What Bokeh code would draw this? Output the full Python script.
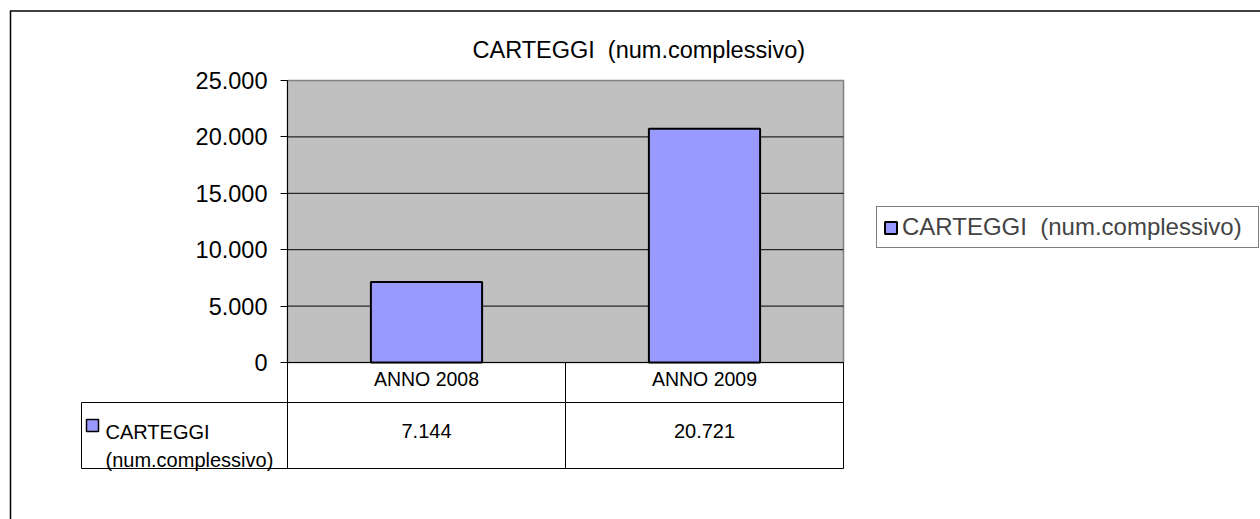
from bokeh.plotting import figure
from bokeh.models import Range1d, FixedTicker, LinearAxis, Legend, LegendItem
from bokeh.core.properties import value
from bokeh.embed import file_html
from bokeh.resources import INLINE

# ---- data ----
title_text = "CARTEGGI \u00a0(num.complessivo)"
series_name = "CARTEGGI  (num.complessivo)"
table_row_label = ["CARTEGGI", "(num.complessivo)"]
categories = ["ANNO 2008", "ANNO 2009"]
values = [7144, 20721]
y_ticks = [0, 5000, 10000, 15000, 20000, 25000]
y_tick_labels = ["0", "5.000", "10.000", "15.000", "20.000", "25.000"]

# ---- layout (canvas px) ----
W, H = 1260, 519
PL, PT, PR, PB = 287, 80, 843, 362      # plot area edges
TBL_L, TBL_R1, TBL_R2 = 81, 402, 468    # data table: left edge, row lines
FONT = "Liberation Sans"
BAR = "#9999FF"

n = len(categories)
ymax = y_ticks[-1]
cw = (PR - PL) / n                 # px per category
vpp = ymax / (PB - PT)             # value per px
cat_x = [i + 0.5 for i in range(n)]


def fmt(v):
    return f"{v:,}".replace(",", ".")


p = figure(width=W, height=H, title=None, output_backend="svg", toolbar_location=None,
           x_axis_type=None, y_axis_type=None,
           x_range=Range1d(-PL / cw, (W - PL) / cw),
           y_range=Range1d(-(H - PB) * vpp, ymax + PT * vpp),
           min_border_left=0, min_border_right=0, min_border_top=0, min_border_bottom=0)
p.extra_x_ranges = {"px_x": Range1d(0, W)}
p.extra_y_ranges = {"px_y": Range1d(H, 0)}
p.outline_line_color = None
p.background_fill_color = "white"
p.border_fill_color = "white"

PX = dict(x_range_name="px_x", y_range_name="px_y")

# outer chart border (top and left edges visible)
p.segment(x0=[10, 10], y0=[10.5, 10], x1=[W, 10], y1=[10.5, H], line_color="black",
          line_width=1.5, **PX)

# plot area
p.quad(left=[0], right=[n], bottom=[0], top=[ymax], fill_color="#C0C0C0",
       line_color="#808080", line_width=1.5)
grid_y = y_ticks[1:-1]
p.segment(x0=[0] * len(grid_y), x1=[n] * len(grid_y), y0=grid_y, y1=grid_y,
          line_color="black", line_width=1)

# bars
r = p.vbar(x=cat_x, top=values, width=0.4, fill_color=BAR, line_color="black", line_width=2)

# value axis
yax = LinearAxis(fixed_location=0, ticker=FixedTicker(ticks=y_ticks), bounds=(0, ymax))
yax.major_label_overrides = {t: l for t, l in zip(y_ticks, y_tick_labels)}
yax.major_label_text_font = FONT
yax.major_label_text_font_size = "23.5px"
yax.major_label_text_color = "black"
yax.axis_line_color = "black"
yax.major_tick_line_color = "black"
yax.major_tick_out = 7
yax.major_tick_in = 0
yax.minor_tick_line_color = None
yax.major_label_standoff = 13
p.add_layout(yax, "left")

# category axis (header row of the data table)
xax = LinearAxis(fixed_location=0, ticker=FixedTicker(ticks=cat_x), bounds=(0, n))
xax.major_label_overrides = {x: c for x, c in zip(cat_x, categories)}
xax.major_label_text_font = FONT
xax.major_label_text_font_size = "19.5px"
xax.major_label_text_color = "black"
xax.axis_line_color = "black"
xax.major_tick_line_color = None
xax.major_tick_out = 0
xax.major_tick_in = 0
xax.minor_tick_line_color = None
xax.major_label_standoff = 5
p.add_layout(xax, "below")

# data table grid
p.segment(x0=[TBL_L, TBL_L], x1=[PR, PR], y0=[TBL_R1, TBL_R2], y1=[TBL_R1, TBL_R2],
          line_color="black", line_width=1, **PX)
p.segment(x0=[TBL_L], x1=[TBL_L], y0=[TBL_R1], y1=[TBL_R2], line_color="black",
          line_width=1, **PX)
bounds_x = list(range(n + 1))
p.segment(x0=bounds_x, x1=bounds_x, y0=[PB] * (n + 1), y1=[TBL_R2] * (n + 1),
          line_color="black", line_width=1, y_range_name="px_y")

# table row header: key + label
p.quad(left=[86], right=[98], top=[419], bottom=[431], fill_color=BAR,
       line_color="black", line_width=1.5, **PX)
p.text(x=[105, 105], y=[431, 459], text=table_row_label, text_font=value(FONT),
       text_font_size=value("20px"), text_color="black", text_baseline="alphabetic",
       text_align="left", **PX)

# table values, centred on each category
p.text(x=cat_x, y=[430] * n, text=[fmt(v) for v in values], text_font=value(FONT),
       text_font_size=value("20px"), text_color="black", text_baseline="alphabetic",
       text_align="center", y_range_name="px_y")

# title
p.text(x=[472], y=[49], text=[title_text], text_font=value(FONT),
       text_font_size=value("23.5px"), text_color="black", text_baseline="alphabetic",
       text_align="left", **PX)

# legend
legend = Legend(items=[LegendItem(label=series_name, renderers=[r])],
                location=(876, H - 248),
                border_line_color="black", border_line_width=1,
                background_fill_color="white", background_fill_alpha=1,
                glyph_width=15, glyph_height=15, label_standoff=4,
                label_text_font=FONT, label_text_font_size="24px",
                label_height=28, label_width=350,
                padding=6, margin=0, spacing=0)
p.add_layout(legend)

open("out.html", "w").write(file_html(p, INLINE))
